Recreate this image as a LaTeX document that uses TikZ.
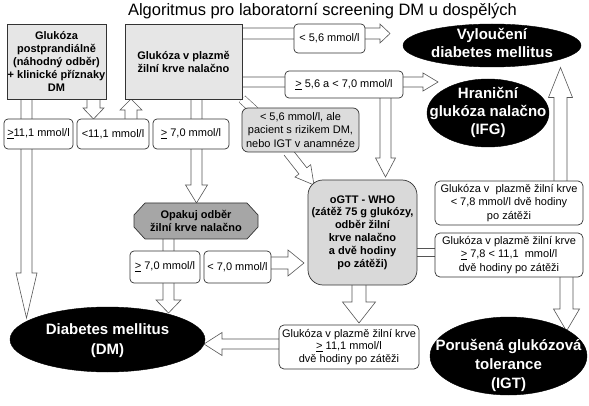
\documentclass[tikz,border=0pt]{standalone}
\usepackage{fontspec}
\setmainfont{Liberation Sans}
\usetikzlibrary{calc,shapes.geometric,backgrounds}
\definecolor{boxgray}{HTML}{E6E6E6}
\definecolor{riskgray}{HTML}{DCDCDC}
\definecolor{ogttgray}{HTML}{D9D9D9}
\definecolor{opakgray}{HTML}{A6A6A6}
\definecolor{edgecol}{HTML}{333333}
\definecolor{conncol}{HTML}{555555}
\newcommand{\barrow}[5]{%
  \coordinate (ba-s) at (#1);
  \coordinate (ba-t) at (#2);
  \coordinate (ba-b) at ($(ba-t)!#5!(ba-s)$);
  \filldraw[conn] ($(ba-s)!#3!90:(ba-t)$) -- ($(ba-b)!#3!90:(ba-t)$) -- ($(ba-b)!#4!90:(ba-t)$)
    -- (ba-t) -- ($(ba-b)!#4!-90:(ba-t)$) -- ($(ba-b)!#3!-90:(ba-t)$) -- ($(ba-s)!#3!-90:(ba-t)$);
}
\tikzset{
  every node/.style={inner sep=0pt, outer sep=0pt, align=center, font=\fontsize{11}{12.5}\selectfont},
  boldtext/.style={font=\fontsize{11}{13}\selectfont\bfseries},
  sq/.style={draw=edgecol, fill=boxgray, line width=0.7pt},
  lbl/.style={draw=edgecol, fill=white, rounded corners=4pt, line width=0.7pt},
  ell/.style={ellipse, fill=black, draw=black},
  etext/.style={text=white, font=\fontsize{15}{18}\selectfont\bfseries},
  conn/.style={draw=conncol, fill=white, line width=0.6pt, line join=miter},
  dbl/.style={draw=conncol, line width=0.6pt, double=white, double distance=#1},
}
\begin{document}
\begin{tikzpicture}[x=1pt,y=-1pt]
\useasboundingbox (0,0) rectangle (589,406);
% title
\node[font=\fontsize{16.5}{18}\selectfont, anchor=base] (title) at (322.5,15.5) {Algoritmus pro laboratorní screening DM u dospělých};
% top boxes
\node[sq, boldtext, minimum width=99pt, minimum height=75pt] (A) at (56.5,61.5) {Glukóza\\postprandiálně\\(náhodný odběr)\\+ klinické příznaky\\DM};
\node[sq, boldtext, minimum width=117pt, minimum height=75pt] (B) at (183.5,61.5) {Glukóza v plazmě\\žilní krve nalačno};
% labels
\node[lbl, minimum width=69pt, minimum height=30pt] (g111) at (38.5,134) {\underline{>}11,1 mmol/l};
\node[lbl, minimum width=72pt, minimum height=30pt] (l111) at (113,134) {<11,1 mmol/l};
\node[lbl, minimum width=76pt, minimum height=30pt] (g70a) at (191,134) {\underline{>} 7,0 mmol/l};
\node[lbl, fill=riskgray, rounded corners=6pt, minimum width=117pt, minimum height=44pt, font=\fontsize{11}{13.5}\selectfont] (risk) at (300.5,130) {< 5,6 mmol/l, ale\\pacient s rizikem DM,\\nebo IGT v anamnéze};
\node[lbl, minimum width=71pt, minimum height=29pt] (l56) at (329.5,38.5) {< 5,6 mmol/l};
\node[lbl, minimum width=118pt, minimum height=27pt] (g56) at (344,84.5) {\underline{>} 5,6 a < 7,0 mmol/l};
% ellipses
\node[ell, minimum width=178pt, minimum height=43pt] (vyl) at (492,45.5) {};
\node[etext] (vylt) at (492,43) {Vyloučení\\diabetes mellitus};
\node[ell, minimum width=122pt, minimum height=68pt] (ifg) at (488,113) {};
\node[etext] (ifgt) at (488,112.5) {Hraniční\\glukóza nalačno\\(IFG)};
\node[ell, minimum width=195pt, minimum height=65pt] (dm) at (107.5,339.5) {};
\node[etext, font=\fontsize{15}{20}\selectfont\bfseries] (dmt) at (107.5,341) {Diabetes mellitus\\(DM)};
\node[ell, minimum width=157pt, minimum height=78pt] (igt) at (508.5,356) {};
\node[etext, font=\fontsize{15}{19}\selectfont\bfseries] (igtt) at (508.5,365) {Porušená glukózová\\tolerance\\(IGT)};
% repeat box (chamfered)
\filldraw[draw=edgecol, fill=opakgray, line width=0.7pt] (145,203) -- (247,203) -- (258,215) -- (258,227) -- (247,239) -- (145,239) -- (134,227) -- (134,215) -- cycle;
\node[boldtext, minimum width=124pt, minimum height=36pt] (opak) at (196,221) {Opakuj odběr\\žilní krve nalačno};
% oGTT
\node[sq, fill=ogttgray, rounded corners=15pt, minimum width=109pt, minimum height=105pt, font=\fontsize{11}{12.8}\selectfont\bfseries] (ogtt) at (362.5,232.5) {oGTT - WHO\\(zátěž 75 g glukózy,\\odběr žilní\\krve nalačno\\a dvě hodiny\\po zátěži)};
% lower labels
\node[lbl, minimum width=70pt, minimum height=32pt] (g70b) at (165,267) {\underline{>} 7,0 mmol/l};
\node[lbl, minimum width=67pt, minimum height=32pt] (l70b) at (237.5,267) {< 7,0 mmol/l};
% right boxes
\node[lbl, rounded corners=5pt, minimum width=148pt, minimum height=44pt, font=\fontsize{11}{13.5}\selectfont] (r1) at (509,203) {Glukóza v~ plazmě žilní krve\\< 7,8 mmol/l dvě hodiny\\po zátěži};
\node[lbl, rounded corners=5pt, minimum width=148pt, minimum height=44pt, font=\fontsize{11}{13.5}\selectfont] (r2) at (509,255) {Glukóza v plazmě žilní krve\\\underline{>} 7,8 < 11,1~ mmol/l\\dvě hodiny po zátěži};
\node[lbl, rounded corners=5pt, minimum width=140pt, minimum height=44pt] (r3) at (349,347) {Glukóza v plazmě žilní krve\\\underline{>} 11,1 mmol/l\\dvě hodiny po zátěži};
% connectors
\begin{scope}[on background layer]
\barrow{[xshift=-30pt]A.south}{$(dm.center)+(-81,-21.5)$}{5.5pt}{10.5pt}{45pt}
\barrow{$(A.south)+(37,0)$}{$(l111.north)+(-19.5,0)$}{6.5pt}{10.5pt}{11pt}
\barrow{$(l111.north)+(18,0)$}{$(B.south)+(-52.5,0)$}{6pt}{11pt}{11pt}
\barrow{$(B.south)+(13,0)$}{$(opak.north)+(0.5,0)$}{5.5pt}{11pt}{18pt}
\barrow{$(B.east)+(0,-28)$}{$(vyl.west)+(-13,-12)$}{5.5pt}{9.5pt}{10pt}
\barrow{$(B.east)+(0,20.5)$}{$(ifg.west)+(11,-31)$}{5pt}{9pt}{15pt}
\barrow{$(g56.south)+(41.5,0)$}{$(ogtt.north)+(23,-3)$}{5.5pt}{10pt}{19pt}
\draw[dbl=8pt] (B.south east) -- ($(risk.north west)+(13,3)$);
\barrow{$(risk.south)+(-12.5,0)$}{$(ogtt.north west)+(6,5)$}{5pt}{10pt}{18pt}
\barrow{$(opak.south)+(-27.5,0)$}{$(dm.center)+(61,-26.5)$}{5.5pt}{12.5pt}{13pt}
\draw[dbl=10.5pt] ($(opak.south)+(42.5,0)$) -- ($(l70b.north)+(1,0)$);
\barrow{$(l70b.east)+(0,-4)$}{$(ogtt.west)+(-4,30.5)$}{6pt}{13pt}{16pt}
\draw[dbl=7.5pt] ($(ogtt.east)+(0,-28.5)$) -- ($(r1.west)+(0,1)$);
\draw[dbl=7pt] ($(ogtt.east)+(0,20)$) -- ($(r2.west)+(0,-2.5)$);
\barrow{$(r1.north)+(51.5,0)$}{$(vyl.south)+(68.5,0.5)$}{6.5pt}{12pt}{30pt}
\barrow{$(r2.south)+(57.5,0)$}{$(igt.north)+(58,14)$}{6.5pt}{13pt}{22pt}
\barrow{$(ogtt.south)+(-3.5,0)$}{$(r3.north)+(10,-2)$}{7pt}{16.5pt}{21pt}
\barrow{$(r3.west)+(0,-3)$}{$(dm.east)+(-1,4.5)$}{5pt}{11.5pt}{18pt}
\end{scope}
\end{tikzpicture}
\end{document}
